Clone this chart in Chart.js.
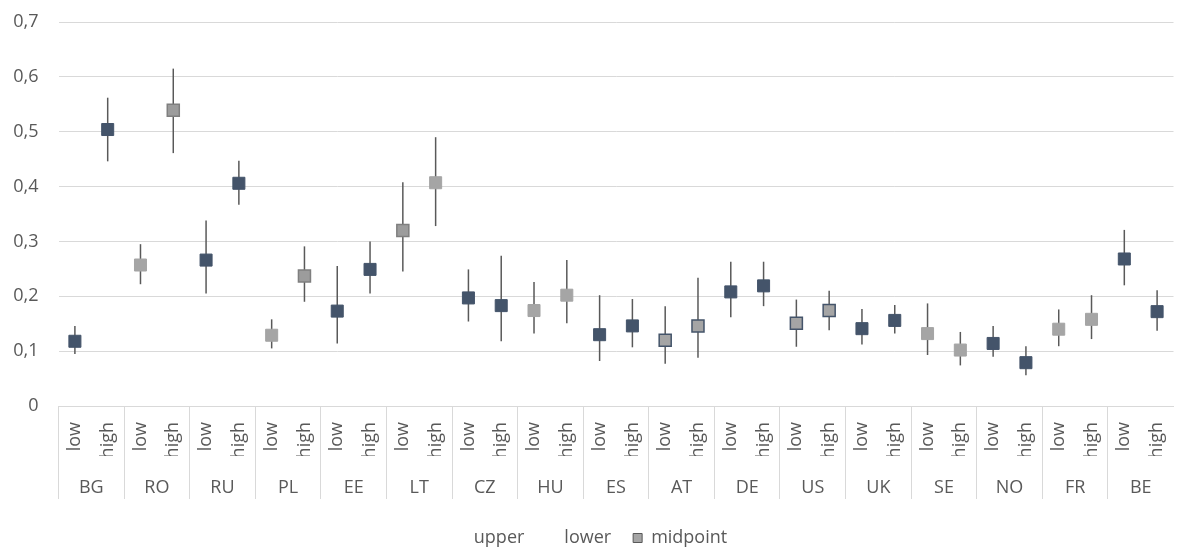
<!DOCTYPE html>
<html lang="en">
<head>
    <meta charset="UTF-8">
    <title>Midpoint with upper and lower bounds by country</title>
    <style>
        body {
            margin: 0;
            background-color: #ffffff;
            overflow: hidden;
        }
    </style>
</head>
<body>
    <canvas id="chart1" width="1183" height="547"></canvas>

    <script src="https://cdn.jsdelivr.net/npm/chart.js"></script>
    <script>
        // data
        var countries = ['BG', 'RO', 'RU', 'PL', 'EE', 'LT', 'CZ', 'HU', 'ES', 'AT', 'DE', 'US', 'UK', 'SE', 'NO', 'FR', 'BE'];
        var levels = ['low', 'high'];
        var midpoint = [
            0.118, 0.504, 0.257, 0.539, 0.266, 0.406, 0.129, 0.237, 0.173, 0.249,
            0.320, 0.407, 0.197, 0.183, 0.174, 0.202, 0.130, 0.146, 0.120, 0.146,
            0.208, 0.219, 0.151, 0.174, 0.141, 0.156, 0.132, 0.102, 0.114, 0.079,
            0.140, 0.158, 0.268, 0.172
        ];
        var upper = [
            0.146, 0.562, 0.295, 0.615, 0.338, 0.447, 0.158, 0.291, 0.255, 0.300,
            0.408, 0.490, 0.249, 0.274, 0.226, 0.266, 0.202, 0.195, 0.182, 0.234,
            0.263, 0.263, 0.194, 0.210, 0.177, 0.184, 0.187, 0.135, 0.146, 0.109,
            0.176, 0.202, 0.321, 0.211
        ];
        var lower = [
            0.095, 0.446, 0.222, 0.461, 0.205, 0.367, 0.105, 0.190, 0.114, 0.205,
            0.245, 0.328, 0.154, 0.118, 0.132, 0.151, 0.082, 0.107, 0.077, 0.088,
            0.162, 0.182, 0.108, 0.138, 0.112, 0.132, 0.093, 0.074, 0.090, 0.056,
            0.109, 0.122, 0.220, 0.137
        ];
        var yTicks = [0, 0.1, 0.2, 0.3, 0.4, 0.5, 0.6, 0.7];

        // marker look per point: D dark, L light, G grey with grey edge, N grey with dark edge
        var markerKind = [
            'D', 'D', 'L', 'G', 'D', 'D', 'L', 'G', 'D', 'D',
            'G', 'L', 'D', 'D', 'L', 'L', 'D', 'D', 'N', 'N',
            'D', 'D', 'N', 'N', 'D', 'D', 'L', 'L', 'D', 'D',
            'L', 'L', 'D', 'D'
        ];
        var fills = { D: '#44546A', L: '#A5A5A5', G: '#9C9C9C', N: '#A5A5A5' };
        var edges = { D: '#44546A', L: '#A5A5A5', G: '#7F7F7F', N: '#44546A' };

        var textColor = '#595959';
        var gridColor = '#D9D9D9';
        var font = { family: 'Open Sans', size: 18 };

        var xLabels = [];
        countries.forEach(function() {
            levels.forEach(function(l) { xLabels.push(l); });
        });

        // vertical high-low lines between the upper and lower points
        var hiLoLines = {
            id: 'hiLoLines',
            beforeDatasetsDraw: function(chart) {
                var up = chart.getDatasetMeta(0).data;
                var lo = chart.getDatasetMeta(1).data;
                var ctx = chart.ctx;
                ctx.save();
                ctx.strokeStyle = '#595959';
                ctx.lineWidth = 1.5;
                for (var i = 0; i < up.length; i++) {
                    ctx.beginPath();
                    ctx.moveTo(up[i].x, up[i].y);
                    ctx.lineTo(lo[i].x, lo[i].y);
                    ctx.stroke();
                }
                ctx.restore();
            }
        };

        var ctx = document.getElementById('chart1').getContext('2d');
        new Chart(ctx, {
            type: 'line',
            data: {
                labels: xLabels,
                datasets: [
                    {
                        label: 'upper',
                        data: upper,
                        showLine: false,
                        pointRadius: 0,
                        pointHoverRadius: 0
                    },
                    {
                        label: 'lower',
                        data: lower,
                        showLine: false,
                        pointRadius: 0,
                        pointHoverRadius: 0
                    },
                    {
                        label: 'midpoint',
                        data: midpoint,
                        showLine: false,
                        pointStyle: 'rect',
                        pointRadius: 8.5,
                        pointHoverRadius: 8.5,
                        pointBackgroundColor: markerKind.map(k => fills[k]),
                        pointBorderColor: markerKind.map(k => edges[k]),
                        pointBorderWidth: markerKind.map(k => (k === 'G' || k === 'N') ? 1.5 : 1)
                    }
                ]
            },
            options: {
                responsive: false,
                animation: false,
                layout: { padding: { top: 0, left: 0, right: 0, bottom: -10 } },
                plugins: {
                    tooltip: { enabled: false },
                    legend: {
                        position: 'bottom',
                        labels: {
                            color: textColor,
                            font: font,
                            boxWidth: 9,
                            boxHeight: 9,
                            padding: 22,
                            generateLabels: function(chart) {
                                return chart.data.datasets.map(function(ds, i) {
                                    var isMid = ds.label === 'midpoint';
                                    return {
                                        text: ds.label,
                                        fillStyle: isMid ? '#A5A5A5' : 'rgba(0,0,0,0)',
                                        strokeStyle: isMid ? '#595959' : 'rgba(0,0,0,0)',
                                        lineWidth: isMid ? 1 : 0,
                                        fontColor: textColor,
                                        hidden: false,
                                        datasetIndex: i
                                    };
                                });
                            }
                        }
                    }
                },
                scales: {
                    y: {
                        min: 0,
                        max: 0.7,
                        afterBuildTicks: function(scale) {
                            scale.ticks = yTicks.map(v => ({ value: v }));
                        },
                        afterFit: function(scale) {
                            scale.width = 58.5;
                            scale.paddingTop = 22;
                            scale.paddingBottom = 0;
                        },
                        border: { display: false },
                        grid: { color: gridColor, lineWidth: 1, drawTicks: false },
                        ticks: {
                            color: textColor,
                            font: font,
                            padding: 20,
                            callback: function(v) { return v === 0 ? '0' : v.toFixed(1).replace('.', ','); }
                        }
                    },
                    x: {
                        weight: 1,
                        offset: true,
                        afterFit: function(scale) { scale.height = 50; },
                        border: { display: true, color: gridColor, width: 1 },
                        grid: {
                            display: true,
                            offset: true,
                            drawOnChartArea: false,
                            drawTicks: true,
                            tickLength: 93,
                            color: function(c) { return c.index % 2 === 0 ? gridColor : 'rgba(0,0,0,0)'; }
                        },
                        ticks: {
                            color: textColor,
                            font: font,
                            autoSkip: false,
                            minRotation: 90,
                            maxRotation: 90,
                            padding: -77
                        }
                    },
                    x2: {
                        type: 'category',
                        weight: 2,
                        labels: countries,
                        offset: true,
                        position: 'bottom',
                        afterFit: function(scale) { scale.height = 51; },
                        border: { display: false },
                        grid: { display: false },
                        ticks: { color: textColor, font: font, padding: 13 }
                    }
                }
            },
            plugins: [hiLoLines]
        });
    </script>
</body>
</html>
